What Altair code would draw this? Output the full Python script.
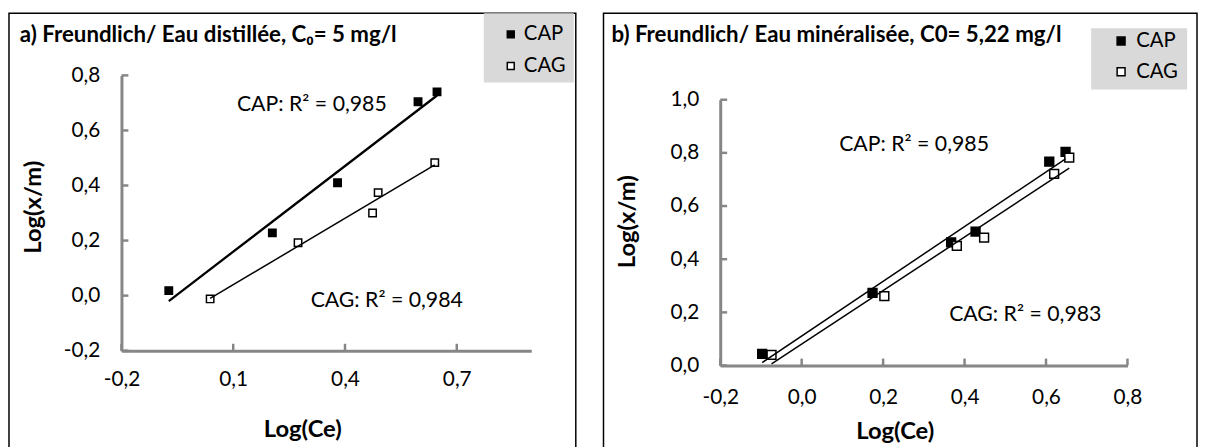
import altair as alt
import pandas as pd

# ---------------- data ----------------
series_names = ["CAP", "CAG"]

a_cap_x = [-0.073, 0.205, 0.380, 0.596, 0.647]
a_cap_y = [0.018, 0.228, 0.410, 0.704, 0.740]
a_cag_x = [0.038, 0.274, 0.474, 0.489, 0.641]
a_cag_y = [-0.012, 0.192, 0.300, 0.374, 0.483]

b_cap_x = [-0.097, 0.174, 0.367, 0.427, 0.608, 0.648]
b_cap_y = [0.044, 0.273, 0.463, 0.504, 0.767, 0.804]
b_cag_x = [-0.074, 0.203, 0.381, 0.448, 0.620, 0.657]
b_cag_y = [0.040, 0.261, 0.450, 0.481, 0.721, 0.782]

a_xticks = [-0.2, 0.1, 0.4, 0.7]
a_yticks = [-0.2, 0.0, 0.2, 0.4, 0.6, 0.8]
b_xticks = [-0.2, 0.0, 0.2, 0.4, 0.6, 0.8]
b_yticks = [0.0, 0.2, 0.4, 0.6, 0.8, 1.0]

a_title = "a) Freundlich/ Eau distillée, C\u2080= 5 mg/l"
b_title = "b)  Freundlich/ Eau minéralisée, C0= 5,22 mg/l"
a_r2 = ["CAP: R² = 0,985", "CAG: R² = 0,984"]
b_r2 = ["CAP: R² = 0,985", "CAG: R² = 0,983"]
x_title = "Log(Ce)"
y_title = "Log(x/m)"

# annotation anchors (data coordinates)
a_r2_x = [0.311, 0.512]
a_r2_y = [0.691, -0.018]
b_r2_x = [0.276, 0.549]
b_r2_y = [0.831, 0.190]

FONT = "Lato"
GRAY = "#868686"
LBL = "(datum.value < -1e-9 ? '-' : '') + replace(format(abs(datum.value), '.1f'), '.', ',')"


def panel(cap_x, cap_y, cag_x, cag_y, xdom, ydom, xticks, yticks, r2, r2x, r2y, title,
          W, H, xrange, yrange, title_pos, ytitle_pos, xtitle_pos, box, leg, size, line_w,
          xpad, ypad):
    df = pd.DataFrame({
        "x": cap_x + cag_x,
        "y": cap_y + cag_y,
        "s": [series_names[0]] * len(cap_x) + [series_names[1]] * len(cag_x),
    })
    xs = alt.Scale(domain=xdom, range=xrange, nice=False, zero=False)
    ys = alt.Scale(domain=ydom, range=yrange, nice=False, zero=False)

    box_l = alt.Chart(pd.DataFrame({"k": [0]})).mark_rect(color="#d9d9d9").encode(
        x=alt.value(box[0]), x2=alt.value(box[1]), y=alt.value(box[2]), y2=alt.value(box[3])
    )

    points = alt.Chart(df).mark_point(
        shape="square", filled=True, size=size, stroke="black", strokeWidth=1.5, opacity=1
    ).encode(
        x=alt.X("x:Q", scale=xs, axis=alt.Axis(
            orient="bottom", offset=-(H - yrange[0]), values=xticks, labelExpr=LBL,
            ticks=False, tickSize=0, grid=False, domainColor=GRAY, domainWidth=3,
            labelFont=FONT, labelFontSize=21, labelColor="black", labelPadding=xpad,
            labelFlush=False, labelOverlap=False, title=None)),
        y=alt.Y("y:Q", scale=ys, axis=alt.Axis(
            orient="left", offset=-xrange[0], values=yticks, labelExpr=LBL,
            ticks=False, tickSize=0, grid=False, domainColor=GRAY, domainWidth=3,
            labelFont=FONT, labelFontSize=21, labelColor="black", labelPadding=ypad,
            labelFlush=False, labelOverlap=False, title=None)),
        fill=alt.Fill("s:N", scale=alt.Scale(domain=series_names, range=["black", "white"]),
                      legend=alt.Legend(
                          orient="none", legendX=leg[0], legendY=leg[1], title=None,
                          symbolType="square", symbolSize=leg[4], symbolStrokeColor="black",
                          symbolStrokeWidth=1.5, labelFont=FONT, labelFontSize=20.5,
                          labelColor="black", rowPadding=leg[2], labelOffset=leg[3], padding=0)),
    )

    line_layers = []
    for name, w in zip(series_names, line_w):
        line_layers.append(
            alt.Chart(df).transform_filter(alt.datum.s == name)
            .transform_regression("x", "y")
            .mark_line(color="black", strokeWidth=w)
            .encode(x=alt.X("x:Q", scale=xs, axis=None), y=alt.Y("y:Q", scale=ys, axis=None))
        )

    # inward tick marks
    xt_l = alt.Chart(pd.DataFrame({"v": xticks})).mark_rule(color=GRAY, strokeWidth=2.5).encode(
        x=alt.X("v:Q", scale=xs, axis=None),
        y=alt.value(yrange[0]), y2=alt.value(yrange[0] - 7),
    )
    yt_l = alt.Chart(pd.DataFrame({"v": yticks})).mark_rule(color=GRAY, strokeWidth=2.5).encode(
        y=alt.Y("v:Q", scale=ys, axis=None),
        x=alt.value(xrange[0]), x2=alt.value(xrange[0] + 7),
    )

    r2_l = alt.Chart(pd.DataFrame({"x": r2x, "y": r2y, "t": r2})).mark_text(
        font=FONT, fontSize=21.5, color="black", align="center", baseline="middle"
    ).encode(
        x=alt.X("x:Q", scale=xs, axis=None),
        y=alt.Y("y:Q", scale=ys, axis=None),
        text="t:N",
    )

    title_l = alt.Chart(pd.DataFrame({"t": [title]})).mark_text(
        font=FONT, fontSize=22.5, fontWeight="bold", color="black", align="left", baseline="middle"
    ).encode(x=alt.value(title_pos[0]), y=alt.value(title_pos[1]), text="t:N")

    ytitle_l = alt.Chart(pd.DataFrame({"t": [y_title]})).mark_text(
        font=FONT, fontSize=24, fontWeight="bold", color="black", align="center",
        baseline="middle", angle=270
    ).encode(x=alt.value(ytitle_pos[0]), y=alt.value(ytitle_pos[1]), text="t:N")

    xtitle_l = alt.Chart(pd.DataFrame({"t": [x_title]})).mark_text(
        font=FONT, fontSize=24, fontWeight="bold", color="black", align="center",
        baseline="middle"
    ).encode(x=alt.value(xtitle_pos[0]), y=alt.value(xtitle_pos[1]), text="t:N")

    return alt.layer(box_l, points, *line_layers, xt_l, yt_l, r2_l, title_l, ytitle_l, xtitle_l
                     ).resolve_axis(x="independent", y="independent").properties(width=W, height=H)


pa = panel(a_cap_x, a_cap_y, a_cag_x, a_cag_y, [-0.2, 0.9], [-0.2, 0.8], a_xticks, a_yticks,
           a_r2, a_r2_x, a_r2_y, a_title,
           W=573, H=440, xrange=[113.7, 528], yrange=[341, 62.7],
           title_pos=(11, 22), ytitle_pos=(25.7, 196), xtitle_pos=(297, 421),
           box=(480, 571, 0, 70), leg=(497, 11, 11, 3, 49), size=56,
           line_w=[2.3, 1.5], xpad=18, ypad=22)

pb = panel(b_cap_x, b_cap_y, b_cag_x, b_cag_y, [-0.2, 0.8], [0.0, 1.0], b_xticks, b_yticks,
           b_r2, b_r2_x, b_r2_y, b_title,
           W=600, H=440, xrange=[118, 529.7], yrange=[356, 87.3],
           title_pos=(8, 21.7), ytitle_pos=(25, 210.7), xtitle_pos=(295, 423),
           box=(493, 590, 15, 77), leg=(513, 17.75, 10, 5, 64), size=80,
           line_w=[1.5, 1.5], xpad=21, ypad=21.7)

chart = alt.hconcat(pa, pb, spacing=26).resolve_scale(fill="independent").resolve_legend(
    fill="independent"
).configure_view(stroke="black", strokeWidth=1.5).properties(
    padding={"left": 0, "top": 2, "right": 0, "bottom": 0}
)

chart.save("out.html", embed_options={"renderer": "svg", "actions": False})
